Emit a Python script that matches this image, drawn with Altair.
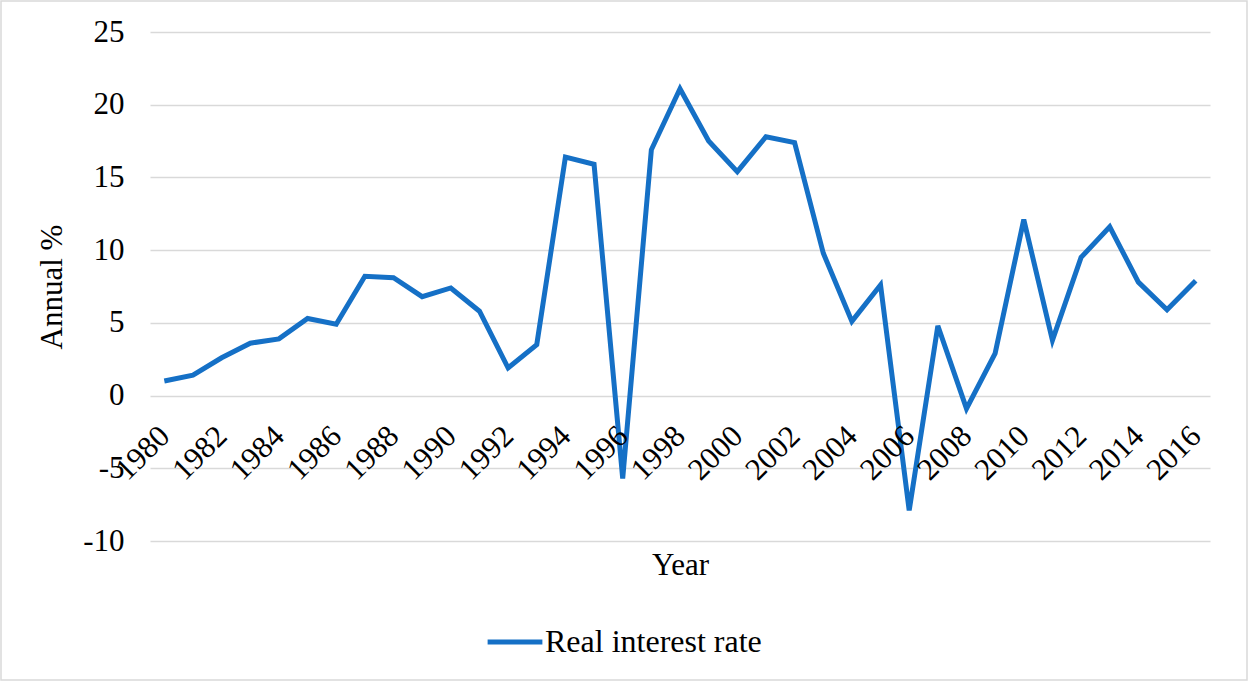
import altair as alt
import pandas as pd

# Annual real interest rate, 1980-2016
years = [str(y) for y in range(1980, 2017)]
rates = [1.0, 1.4, 2.6, 3.6, 3.9, 5.3, 4.9, 8.2, 8.1, 6.8, 7.4, 5.8, 1.9, 3.5,
         16.4, 15.9, -5.7, 16.9, 21.1, 17.5, 15.4, 17.8, 17.4, 9.8, 5.1, 7.6,
         -7.9, 4.8, -0.9, 2.9, 12.1, 3.8, 9.5, 11.6, 7.8, 5.9, 7.9]
series_name = "Real interest rate"
y_ticks = [-10, -5, 0, 5, 10, 15, 20, 25]
label_years = [str(y) for y in range(1980, 2017, 2)]

FONT = "Liberation Serif"
BLUE = "#1570c6"
GRID = "#d9d9d9"

W, H = 1060, 509

df = pd.DataFrame({"Year": years, "Rate": rates, "Series": series_name})
labels_df = pd.DataFrame({"Year": label_years, "Zero": 0})

x_scale = alt.Scale(type="point", padding=0.5)
y_scale = alt.Scale(domain=[-10, 25], nice=False, zero=False)

line = alt.Chart(df).mark_line(strokeWidth=5, strokeJoin="miter").encode(
    x=alt.X("Year:O", scale=x_scale,
            axis=alt.Axis(title="Year", labels=False, ticks=False, domain=False,
                          grid=False, titleFont=FONT, titleFontSize=31,
                          titleFontWeight="normal", titleColor="black",
                          titlePadding=9)),
    y=alt.Y("Rate:Q", scale=y_scale,
            axis=alt.Axis(title="Annual %", values=y_ticks, ticks=False, domain=False,
                          grid=True, gridColor=GRID, gridWidth=1.5,
                          labelExpr="'' + datum.value",
                          labelFont=FONT, labelFontSize=31, labelColor="black",
                          labelPadding=26, titleFont=FONT, titleFontSize=31,
                          titleFontWeight="normal", titleColor="black",
                          titlePadding=14)),
    color=alt.Color("Series:N", scale=alt.Scale(range=[BLUE]),
                    legend=alt.Legend(title=None, orient="none", legendX=335, legendY=580,
                                      symbolType="stroke", symbolStrokeWidth=5,
                                      symbolSize=3000, labelFont=FONT, labelFontSize=32,
                                      labelColor="black", labelLimit=400,
                                      symbolOffset=0, labelOffset=0)),
)

# Year labels hang from the zero line, rotated like the category axis
year_labels = alt.Chart(labels_df).mark_text(
    angle=315, align="right", baseline="middle", font=FONT, fontSize=31,
    color="black", dx=-25, dy=26
).encode(
    x=alt.X("Year:O", scale=x_scale),
    y=alt.Y("Zero:Q", scale=y_scale),
    text="Year:N",
)

# Light frame around the whole chart area
frame = alt.Chart(pd.DataFrame({"k": [0]})).mark_rect(
    fill=None, stroke=GRID, strokeWidth=1.5
).encode(
    x=alt.value(-149), x2=alt.value(1097), y=alt.value(-31), y2=alt.value(648)
)

chart = alt.layer(frame, line, year_labels).properties(
    width=W, height=H,
    padding={"left": 150, "top": 32, "right": 39, "bottom": 141},
    autosize=alt.AutoSizeParams(type="none"),
    background="white",
).configure_view(stroke=None)

chart.save("out.html", embed_options={"renderer": "svg", "actions": False})
